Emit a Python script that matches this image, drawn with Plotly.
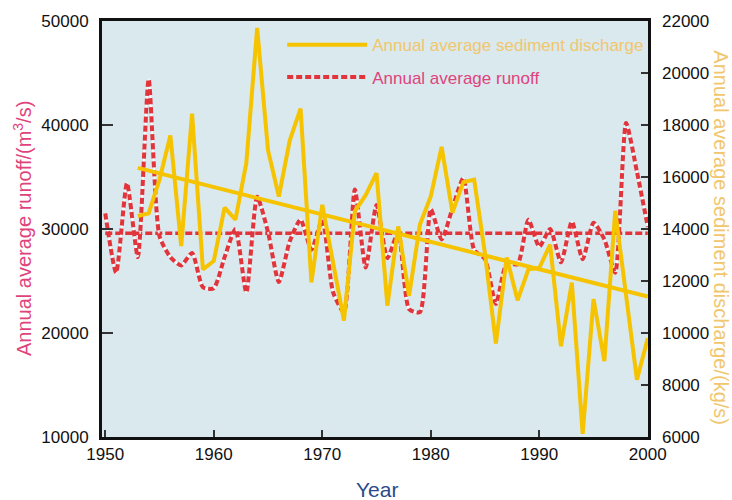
import plotly.graph_objects as go

# ---------------- data ----------------
years_runoff = list(range(1950, 2001))
runoff = [31500, 25800, 34400, 27300, 44400, 29300, 27300, 26500, 27700, 24400,
          24300, 27300, 30000, 23900, 33100, 29700, 24900, 28800, 30900, 28000,
          30900, 23900, 22000, 33800, 26300, 32300, 27200, 29700, 22300, 22000,
          31900, 29000, 32000, 34900, 28000, 27100, 22800, 26700, 26600, 30900,
          28300, 30000, 26800, 30700, 27100, 30600, 29000, 25800, 40200, 35500,
          30200]

years_sediment = list(range(1953, 2001))
sediment = [14500, 14600, 15900, 17600, 13340, 18440, 12450,
            12770, 14820, 14360, 16530, 21730, 17030, 15250, 17400, 18630, 11950,
            14930, 12700, 10480, 14680, 15300, 16150, 11050, 14100, 11430, 14170,
            15250, 17160, 14630, 15800, 15900, 13050, 9600, 12900, 11260, 12450,
            12500, 13400, 9490, 11940, 6120, 11300, 8920, 14700, 11450, 8200,
            9800]

runoff_mean = 29600
trend_years = [1953, 2000]
trend_values = [16350, 11400]

x_ticks = [1950, 1960, 1970, 1980, 1990, 2000]
y1_ticks = [10000, 20000, 30000, 40000, 50000]
y2_ticks = [6000, 8000, 10000, 12000, 14000, 16000, 18000, 20000, 22000]

name_sed = "Annual average sediment discharge"
name_run = "Annual average runoff"
title_left = "Annual average runoff/(m<sup>3</sup>/s)"
title_right = "Annual average sediment discharge/(kg/s)"
title_x = "Year"

# ---------------- style ----------------
YELLOW = "#f6c300"
RED = "#e2343b"
PINK = "#e0437c"
PALE = "#f1c66c"
NAVY = "#2b4a8b"
BG = "#d9e9ee"
FONT = "Liberation Sans, Arial, sans-serif"

fig = go.Figure()

# runoff mean line
fig.add_trace(go.Scatter(x=[years_runoff[0], years_runoff[-1]], y=[runoff_mean, runoff_mean],
                         mode="lines", line=dict(color=RED, width=3.5, dash="7px,3px"),
                         showlegend=False, hoverinfo="skip", yaxis="y"))
# runoff (white underlay + red dashes)
fig.add_trace(go.Scatter(x=years_runoff, y=runoff, mode="lines",
                         line=dict(color="rgba(255,255,255,0.8)", width=2, shape="spline", smoothing=0.6),
                         showlegend=False, hoverinfo="skip", yaxis="y"))
fig.add_trace(go.Scatter(x=years_runoff, y=runoff, mode="lines", name=f"<span style='color:{PINK}'>{name_run}</span>",
                         line=dict(color=RED, width=4, dash="6px,3px", shape="spline", smoothing=0.6),
                         legendgroup="b", legendrank=2, yaxis="y"))
# sediment
fig.add_trace(go.Scatter(x=years_sediment, y=sediment, mode="lines", name=f"<span style='color:{PALE}'>{name_sed}</span>",
                         line=dict(color=YELLOW, width=4),
                         legendgroup="a", legendrank=1, yaxis="y2"))
fig.add_trace(go.Scatter(x=trend_years, y=trend_values, mode="lines",
                         line=dict(color=YELLOW, width=4),
                         showlegend=False, hoverinfo="skip", yaxis="y2"))

fig.update_layout(
    width=732, height=500,
    margin=dict(l=102, r=84, t=18, b=63),
    paper_bgcolor="white", plot_bgcolor=BG,
    font=dict(family=FONT, size=17, color="black"),
    xaxis=dict(range=[1949.7, 2000.02], tickvals=x_ticks, tickformat="d", ticks="inside", ticklen=7, tickwidth=1.5,
               tickcolor="#333", showgrid=False, zeroline=False,
               showline=True, linecolor="#111", linewidth=3, mirror=True,
               tickfont=dict(size=17, color="#111")),
    yaxis=dict(range=[10000, 50000], tickvals=y1_ticks, tickformat="d", ticks="inside", ticklen=11, tickwidth=1.5,
               tickcolor="#333", showgrid=False, zeroline=False,
               showline=True, linecolor="#111", linewidth=3, mirror=True,
               tickfont=dict(size=17, color="#111"), ticklabelstandoff=7),
    yaxis2=dict(range=[6000, 22000], tickvals=y2_ticks, tickformat="d", ticks="inside", ticklen=7, tickwidth=1.5,
                tickcolor="#333", overlaying="y", side="right", showgrid=False, zeroline=False,
                showline=False, tickfont=dict(size=17, color="#111"), ticklabelstandoff=13),
    showlegend=True,
    legend=dict(x=0.33, y=0.985, xanchor="left", yanchor="top", bgcolor="rgba(0,0,0,0)",
                borderwidth=0, font=dict(size=17, family=FONT), itemwidth=80,
                tracegroupgap=7, traceorder="grouped"),
    annotations=[
        dict(text=title_x, xref="paper", yref="paper", x=0.503, y=-0.1265, xanchor="center",
             yanchor="middle", showarrow=False, font=dict(size=21, color=NAVY, family=FONT)),
        dict(text=title_left, xref="paper", yref="paper", x=-0.1465, y=0.5, xanchor="center",
             yanchor="middle", textangle=-90, showarrow=False, font=dict(size=20, color=PINK, family=FONT)),
        dict(text=title_right, xref="paper", yref="paper", x=1.132, y=0.4797, xanchor="center",
             yanchor="middle", textangle=90, showarrow=False, font=dict(size=20, color=PALE, family=FONT)),
    ],
)

fig.write_html("out.html")
